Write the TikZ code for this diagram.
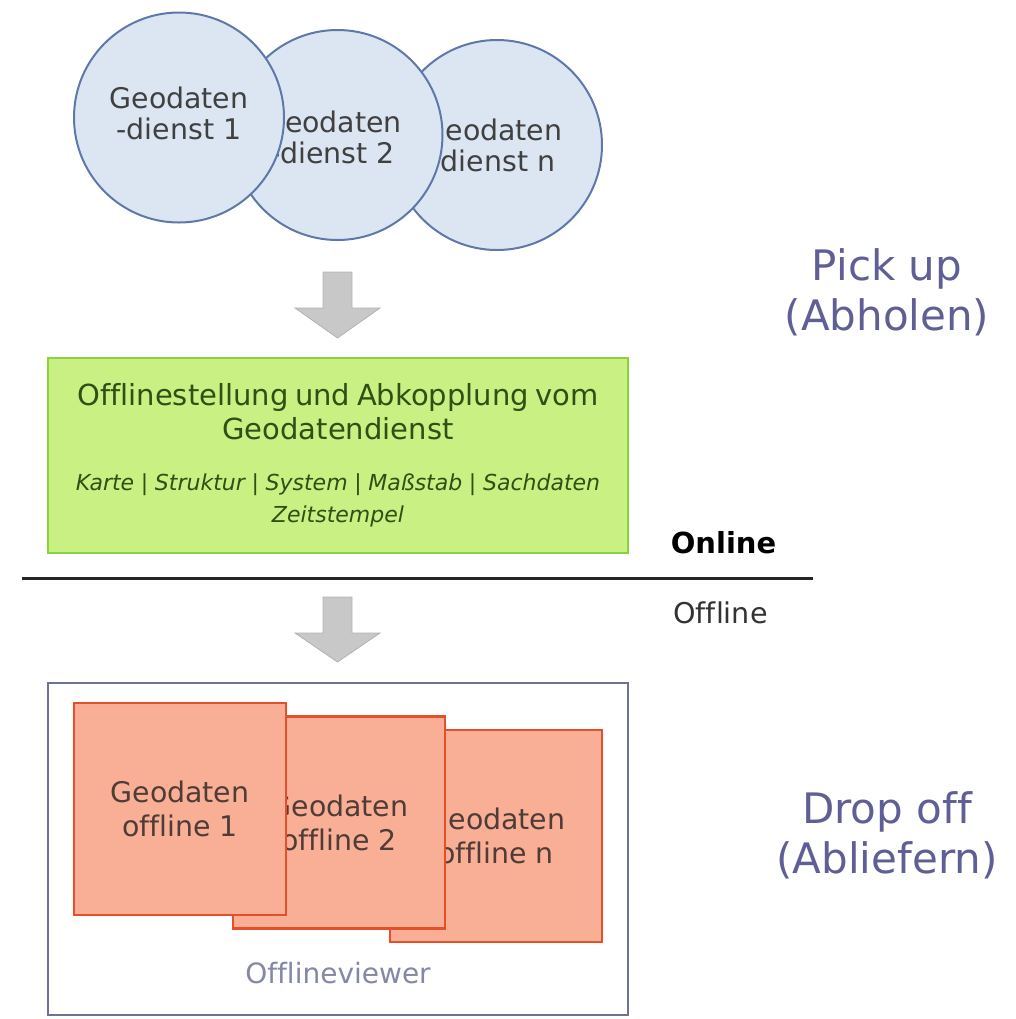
\documentclass[tikz,border=0pt]{standalone}
\usepackage{fontspec}
\setmainfont{DejaVu Sans}[Ligatures=CommonOff,ItalicFont={DejaVu Sans Oblique},BoldFont={DejaVu Sans Bold}]
\usepackage{tikz}

\definecolor{dienstfill}{HTML}{DCE6F3}
\definecolor{dienstline}{HTML}{5F78AA}
\definecolor{boxfill}{HTML}{C8F082}
\definecolor{boxline}{HTML}{8CD23C}
\definecolor{boxtext}{HTML}{2D5014}
\definecolor{offfill}{HTML}{F9AE96}
\definecolor{offdraw}{HTML}{E65028}
\definecolor{offtext}{HTML}{503C37}
\definecolor{viewerline}{HTML}{6E7396}
\definecolor{labeltext}{HTML}{5F5F96}
\definecolor{arrowfill}{HTML}{C8C8C8}

\begin{document}
\begin{tikzpicture}[x=0.5pt,y=-0.5pt,
        dienst/.style={circle,draw=dienstline,line width=1pt,fill=dienstfill,inner sep=0pt,minimum size=105pt},
        diensttext/.style={text=black!75,align=center,inner sep=0pt,font=\fontsize{14.2}{15.5}\selectfont},
        geooff/.style={rectangle,draw=offdraw,line width=1.2pt,fill=offfill,text=offtext,align=center,minimum width=106pt,minimum height=106pt,inner sep=0pt,font=\fontsize{14.2}{17}\selectfont},
        bigarrow/.style={fill=arrowfill,draw=black!30,line width=0.4pt},
        sidelabel/.style={text=labeltext,align=center,font=\fontsize{21}{25}\selectfont}]
            \useasboundingbox (0,0) rectangle (1016,1019);
            % Geodatendienste
            \node[dienst] (dienstn) at (497,145) {};
            \node[diensttext] (dienstnname) at ([xshift=-2pt]dienstn.center) {Geodaten\\-dienst n};
            \node[dienst] (dienst2) at (337.5,135) {};
            \node[diensttext] (dienst2name) at ([xshift=-2.5pt,yshift=-1pt]dienst2.center) {Geodaten\\-dienst 2};
            \node[dienst] (dienst1) at (179,117.5) {};
            \node[diensttext] (dienst1name) at ([yshift=2pt]dienst1.center) {Geodaten\\-dienst 1};
            \draw[bigarrow] (323,272) -- (352,272) -- (352,308) -- (380,308) -- (337.5,338) -- (295,308) -- (323,308) -- cycle;
            % Offlinestellung
            \node[draw=boxline,line width=1pt,fill=boxfill,text=boxtext,minimum width=290pt,minimum height=97.5pt,text width=280pt,align=center,inner sep=0pt] (stellung) at (338,455.5)
                {{\fontsize{14.5}{17}\selectfont Offlinestellung und Abkopplung vom\\ Geodatendienst\par}\vspace{9.5pt}%
                 {\fontsize{11}{16}\selectfont\itshape Karte | Struktur | System | Maßstab | Sachdaten\\ Zeitstempel\par}};
            \draw[line width=1.5pt,black!85] (22,578) -- (813,578);
            \node[font=\bfseries\fontsize{14.5}{17}\selectfont] (online) at (723.5,543) {Online};
            \node[text=black!80,font=\fontsize{14.3}{17}\selectfont] (offline) at (720.5,613) {Offline};
            \draw[bigarrow] (323,597) -- (352,597) -- (352,633) -- (380,633) -- (337.5,662) -- (295,633) -- (323,633) -- cycle;
            % Offlineviewer
            \node[draw=viewerline,line width=1pt,fill=white,minimum width=290pt,minimum height=166pt] (viewer) at (338,849) {};
            \node[geooff] (geooffn) at (496,836) {Geodaten\\offline n};
            \node[geooff] (geooff2) at (339,822.5) {Geodaten\\offline 2};
            \node[geooff] (geooff1) at (180,809) {Geodaten\\offline 1};
            \node[text=viewerline!85,font=\fontsize{14}{17}\selectfont] (viewername) at (338,973) {Offlineviewer};
            % Phasen
            \node[sidelabel] (pickup) at (887,292) {Pick up\\(Abholen)};
            \node[sidelabel] (dropoff) at (887,835) {Drop off\\(Abliefern)};
        \end{tikzpicture}
\end{document}
